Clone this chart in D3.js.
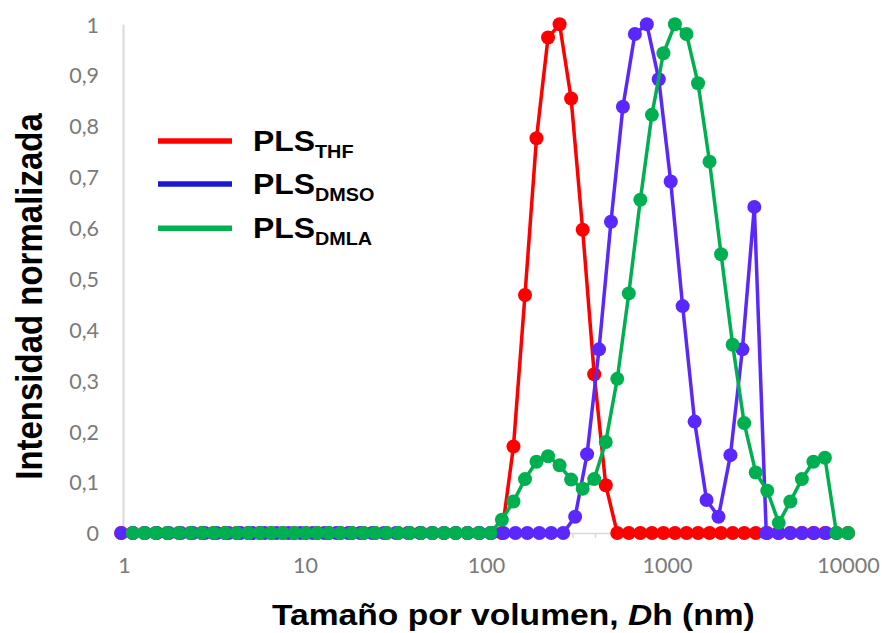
<!DOCTYPE html>
<html>
<head>
<meta charset="utf-8">
<script src="https://cdn.jsdelivr.net/npm/d3@7"></script>
<style>
  body { margin: 0; background: #fff; }
  svg { display: block; }
</style>
</head>
<body>
<svg id="chart" width="882" height="633"></svg>
<script>
// Size bins (nm) shared by the THF and DMLA runs
const sizesStd = [0.9649, 1.117, 1.294, 1.499, 1.736, 2.010, 2.328, 2.696, 3.122, 3.615,
  4.187, 4.849, 5.615, 6.503, 7.531, 8.721, 10.10, 11.70, 13.54, 15.69,
  18.17, 21.04, 24.36, 28.21, 32.67, 37.84, 43.82, 50.75, 58.77, 68.06,
  78.82, 91.28, 105.7, 122.4, 141.8, 164.2, 190.1, 220.2, 255.0, 295.3,
  342.0, 396.1, 458.7, 531.2, 615.1, 712.4, 825.0, 955.4, 1106, 1281,
  1484, 1718, 1990, 2305, 2669, 3091, 3580, 4145, 4801, 5560,
  6439, 7456, 8635, 10000];

// Normalised volume intensity, PLS in THF
const thfValues = [0, 0, 0, 0, 0, 0, 0, 0, 0, 0,
  0, 0, 0, 0, 0, 0, 0, 0, 0, 0,
  0, 0, 0, 0, 0, 0, 0, 0, 0, 0,
  0, 0, 0, 0, 0.170, 0.468, 0.776, 0.974, 1.0, 0.854,
  0.596, 0.312, 0.094, 0, 0, 0, 0, 0, 0, 0,
  0, 0, 0, 0, 0, 0, 0, 0, 0, 0,
  0, 0, 0, 0];

// Normalised volume intensity, PLS in DMLA (no value in the first bin)
const dmlaValues = [null, 0, 0, 0, 0, 0, 0, 0, 0, 0,
  0, 0, 0, 0, 0, 0, 0, 0, 0, 0,
  0, 0, 0, 0, 0, 0, 0, 0, 0, 0,
  0, 0, 0, 0.026, 0.062, 0.106, 0.140, 0.151, 0.133, 0.105,
  0.087, 0.106, 0.179, 0.303, 0.471, 0.655, 0.822, 0.943, 1.0, 0.981,
  0.884, 0.730, 0.548, 0.370, 0.216, 0.119, 0.083, 0.020, 0.062, 0.106,
  0.140, 0.148, 0, 0];

// Size bins (nm) of the DMSO run
const dmsoSizes = [0.965, 1.123, 1.308, 1.522, 1.772, 2.063, 2.402, 2.796, 3.255, 3.789,
  4.411, 5.135, 5.978, 6.960, 8.102, 9.430, 10.98, 12.78, 14.88, 17.32,
  20.16, 23.47, 27.33, 31.81, 37.03, 43.11, 50.18, 58.42, 68.01, 79.17,
  92.16, 107.3, 124.9, 145.4, 169.2, 197.0, 229.4, 267.0, 310.8, 361.8,
  421.2, 490.3, 570.8, 664.5, 773.6, 900.5, 1048, 1220, 1421, 1654,
  1925, 2241, 2609, 3037, 3535, 4116, 4791, 5578, 6493, 7558];

// Normalised volume intensity, PLS in DMSO
const dmsoValues = [0, 0, 0, 0, 0, 0, 0, 0, 0, 0,
  0, 0, 0, 0, 0, 0, 0, 0, 0, 0,
  0, 0, 0, 0, 0, 0, 0, 0, 0, 0,
  0, 0, 0, 0, 0, 0, 0, 0, 0.032, 0.155,
  0.361, 0.612, 0.838, 0.981, 1.0, 0.892, 0.691, 0.446, 0.219, 0.065,
  0.032, 0.153, 0.361, 0.641, 0, 0, 0, 0, 0, 0];

const xTickValues = [1, 10, 100, 1000, 10000];
const yTickValues = [0, 0.1, 0.2, 0.3, 0.4, 0.5, 0.6, 0.7, 0.8, 0.9, 1];
const seriesLabels = ["THF", "DMSO", "DMLA"];

const toPoints = (sizes, vals) =>
  sizes.map((s, i) => ({ x: s, y: vals[i] })).filter(d => d.y !== null && d.y !== undefined);

const series = [
  { sub: seriesLabels[0], color: "#ff0000", legendColor: "#ff0000", points: toPoints(sizesStd, thfValues) },
  { sub: seriesLabels[1], color: "#5a28ff", legendColor: "#1818d6", points: toPoints(dmsoSizes, dmsoValues) },
  { sub: seriesLabels[2], color: "#00b050", legendColor: "#00b050", points: toPoints(sizesStd, dmlaValues) }
];

const svg = d3.select("#chart");

const x = d3.scaleLog().domain([1, 10000]).range([124, 848]);
const y = d3.scaleLinear().domain([0, 1]).range([533, 24.3]);

const comma = d3.formatLocale({ decimal: ",", thousands: ".", grouping: [3], currency: ["", " €"] });
const yFmt = comma.format(".1~f");

const labelFont = "Lato, 'Open Sans', sans-serif";
const titleFont = "'Liberation Sans', Arial, sans-serif";
const gridGray = "#d9d9d9";
const labelGray = "#7a7a7a";

// Y axis: light grey line with comma-decimal labels
const yAxis = svg.append("g")
  .attr("transform", `translate(${x(1) - 1},0)`)
  .call(d3.axisLeft(y).tickValues(yTickValues).tickFormat(yFmt).tickSize(0).tickPadding(24));
yAxis.select(".domain").attr("stroke", gridGray).attr("stroke-width", 2);
yAxis.selectAll("text")
  .attr("fill", labelGray)
  .attr("font-family", labelFont)
  .attr("font-size", 21.5)
  .attr("dy", "0.36em");

// X axis: minor tick marks per decade, then the baseline and labels
const minorTicks = [];
for (const dec of [1, 10, 100, 1000]) {
  for (let m = 1; m <= 10; m++) minorTicks.push(dec * m);
}
const xMinor = svg.append("g")
  .attr("transform", `translate(0,${y(0)})`)
  .call(d3.axisBottom(x).tickValues(minorTicks).tickFormat("").tickSize(5).tickSizeOuter(0));
xMinor.select(".domain").attr("stroke", gridGray).attr("stroke-width", 1.5);
xMinor.selectAll(".tick line").attr("stroke", gridGray).attr("stroke-width", 1.5);

const xAxis = svg.append("g")
  .attr("transform", `translate(0,${y(0)})`)
  .call(d3.axisBottom(x).tickValues(xTickValues).tickFormat(d3.format("d")).tickSize(0));
xAxis.select(".domain").remove();
xAxis.selectAll("text")
  .attr("fill", labelGray)
  .attr("font-family", labelFont)
  .attr("font-size", 21.5)
  .attr("y", 40)
  .attr("dy", 0);

// Series: line first, then its markers, drawn in legend order
const line = d3.line().x(d => x(d.x)).y(d => y(d.y));
series.forEach(s => {
  const g = svg.append("g");
  g.append("path")
    .datum(s.points)
    .attr("fill", "none")
    .attr("stroke", s.color)
    .attr("stroke-width", 3.5)
    .attr("stroke-linejoin", "round")
    .attr("d", line);
  g.selectAll("circle")
    .data(s.points)
    .join("circle")
    .attr("cx", d => x(d.x))
    .attr("cy", d => y(d.y))
    .attr("r", 7)
    .attr("fill", s.color);
});

// Legend
const legendRows = [141, 184, 228.3];
series.forEach((s, i) => {
  const ly = legendRows[i];
  svg.append("line")
    .attr("x1", 158).attr("x2", 232)
    .attr("y1", ly).attr("y2", ly)
    .attr("stroke", s.legendColor)
    .attr("stroke-width", 5.5);
  const t = svg.append("text")
    .attr("transform", `translate(253,${ly + 10}) scale(1.1,1)`)
    .attr("font-family", titleFont)
    .attr("font-weight", "bold")
    .attr("font-size", 29)
    .attr("fill", "#000");
  t.append("tspan").text("PLS");
  t.append("tspan").attr("dy", 7).attr("font-size", 18).text(s.sub);
});

// Axis titles
const xt = svg.append("text")
  .attr("transform", "translate(272,625) scale(1.12,1)")
  .attr("font-family", titleFont)
  .attr("font-weight", "bold")
  .attr("font-size", 30)
  .attr("fill", "#000");
xt.append("tspan").text("Tamaño por volumen, ");
xt.append("tspan").attr("font-style", "italic").text("D");
xt.append("tspan").text("h (nm)");

svg.append("text")
  .attr("transform", "translate(41.5,296.5) rotate(-90) scale(1,1.1)")
  .attr("text-anchor", "middle")
  .attr("font-family", titleFont)
  .attr("font-weight", "bold")
  .attr("font-size", 33)
  .attr("fill", "#000")
  .text("Intensidad normalizada");
</script>
</body>
</html>
